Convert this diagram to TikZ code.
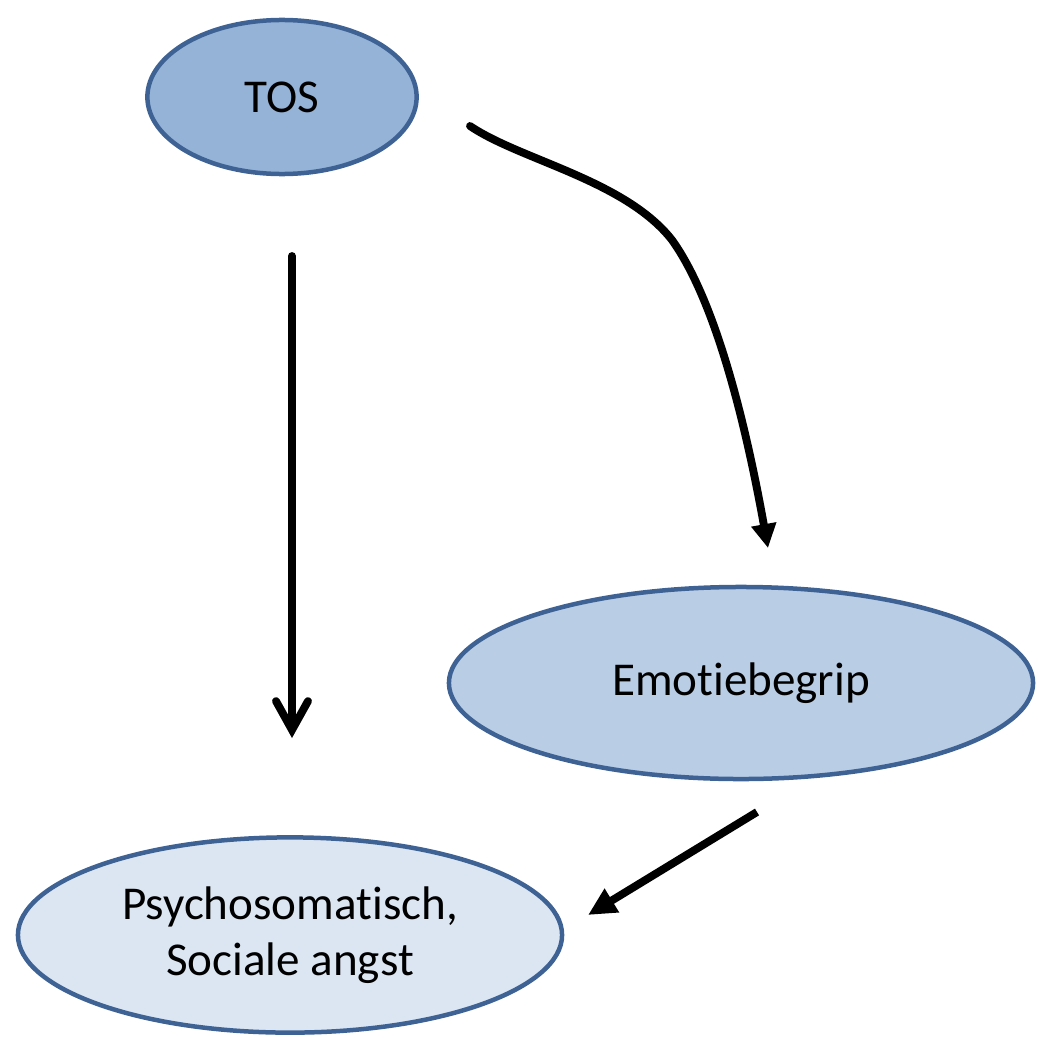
\documentclass[tikz,border=0pt]{standalone}
\usepackage{fontspec}
\setmainfont{Carlito}[Ligatures={NoCommon}]
\usetikzlibrary{arrows.meta,shapes.geometric}
\definecolor{bordc}{HTML}{3F6295}
\definecolor{fillA}{HTML}{95B3D7}
\definecolor{fillB}{HTML}{B9CDE5}
\definecolor{fillC}{HTML}{DCE6F2}
\begin{document}
\begin{tikzpicture}[x=0.025cm,y=-0.025cm,
  ell/.style={ellipse, draw=bordc, line width=3.2pt, inner sep=0pt,
    font=\fontsize{33.5}{40}\selectfont, align=center},
  conn/.style={line width=5.6pt, black}]
\useasboundingbox (0,0) rectangle (1038,1038);
\node[ell, fill=fillA, minimum width=6.73cm, minimum height=3.85cm] (tos) at (282,97) {TOS};
\node[ell, fill=fillB, minimum width=14.6cm, minimum height=4.8cm] (emo) at (741,683) {Emotiebegrip};
\node[ell, fill=fillC, minimum width=13.6cm, minimum height=4.88cm] (psy) at (290,935) {Psychosomatisch,\\Sociale angst};
\coordinate (a1s) at (292,256);
\coordinate (a1e) at (292,738);
\coordinate (a2s) at (470,126);
\coordinate (a2m) at (672,240);
\coordinate (a2e) at (768,548);
\coordinate (a3s) at (757,812);
\coordinate (a3e) at (588,915);
\draw[conn, line cap=round, -{Straight Barb[length=0.72cm, width=0.8cm, line cap=round]}] (a1s) -- (a1e);
\draw[conn, line cap=round, -{Triangle[length=0.6cm, width=0.6cm]}] (a2s) .. controls (520,160) and (625,180) .. (a2m) .. controls (715,300) and (745,420) .. (a2e);
\draw[conn, -{Triangle[length=0.7cm, width=0.65cm]}] (a3s) -- (a3e);
\end{tikzpicture}
\end{document}
